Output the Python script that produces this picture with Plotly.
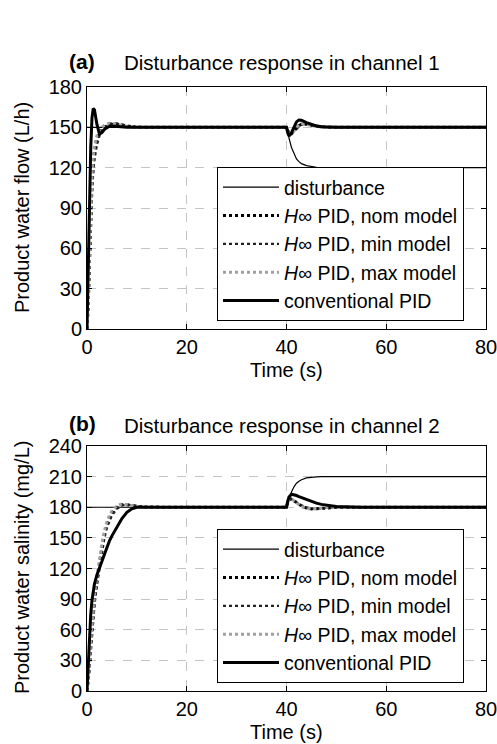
import plotly.graph_objects as go

# ---------------- data ----------------
t = [0, 0.25, 0.5, 0.75, 1, 1.25, 1.5, 2, 2.5, 3, 3.5, 4, 4.5, 5, 6, 7, 8, 9, 10, 12, 15, 20, 30, 40,
     40.25, 40.5, 41, 41.5, 42, 42.5, 43, 44, 45, 46, 47, 48, 50, 55, 60, 70, 80]

# channel 1 (product water flow, L/h)
flow_dist = [150] * 24 + [147, 142, 135, 130, 126.5, 124.5, 123, 121.5, 120.7, 120.3, 120.1, 120, 120, 120, 120, 120, 120]
flow_nom = [0, 18, 50, 85, 108, 122, 131, 141, 146, 148.5, 150.3, 151.5, 152.3, 152.8, 152.5, 151.6, 150.9, 150.4, 150.1, 150, 150, 150, 150, 150,
            147.5, 145.5, 145.2, 147, 149.5, 151.3, 152.3, 152.4, 151.6, 150.9, 150.4, 150.1, 150, 150, 150, 150, 150]
flow_min = [0, 14, 42, 76, 100, 116, 126, 137, 143.5, 147, 149.5, 151, 152, 152.6, 152.7, 152, 151.2, 150.6, 150.2, 150, 150, 150, 150, 150,
            148, 146, 145.8, 147.3, 149.3, 151, 152, 152.5, 151.9, 151.1, 150.6, 150.2, 150, 150, 150, 150, 150]
flow_max = [0, 22, 58, 93, 115, 128, 136, 144, 148, 150.3, 151.6, 152.5, 153, 153, 152.3, 151.3, 150.6, 150.2, 150, 150, 150, 150, 150, 150,
            147, 145, 145, 147.2, 150, 152, 152.8, 152.3, 151.2, 150.5, 150.2, 150, 150, 150, 150, 150, 150]
flow_pid = [0, 45, 95, 135, 157, 164, 163, 152, 145, 146, 148.5, 150, 150.8, 151, 150.5, 150.2, 150, 150, 150, 150, 150, 150, 150, 150,
            146, 143.5, 146, 150.5, 154, 155.5, 155.3, 153.5, 152, 151, 150.5, 150.2, 150, 150, 150, 150, 150]

# channel 2 (product water salinity, mg/L)
sal_dist = [180] * 24 + [183, 188, 195, 200, 203.5, 205.5, 207, 208.7, 209.4, 209.8, 210, 210, 210, 210, 210, 210, 210]
sal_nom = [0, 10, 25, 44, 62, 76, 89, 108, 125, 141, 154, 163, 169, 174, 180, 182.5, 182.5, 181.5, 180.8, 180.2, 180, 180, 180, 180,
           185, 187.5, 188, 186.5, 184.5, 182.7, 181.3, 179.3, 178.4, 178.5, 179, 179.5, 180, 180, 180, 180, 180]
sal_min = [0, 8, 21, 39, 56, 71, 84, 104, 121, 137, 150, 160, 167, 172, 178.5, 181.8, 182.6, 182, 181.2, 180.4, 180, 180, 180, 180,
           184.5, 187, 187.8, 186.8, 185, 183.3, 182, 179.9, 178.8, 178.6, 178.9, 179.4, 179.9, 180, 180, 180, 180]
sal_max = [0, 12, 29, 49, 67, 81, 94, 113, 130, 145, 157, 166, 172, 176.5, 181.5, 183.2, 182.7, 181.5, 180.6, 180.1, 180, 180, 180, 180,
           185.5, 188, 188.2, 186.2, 184, 182, 180.6, 178.8, 178.2, 178.6, 179.2, 179.7, 180, 180, 180, 180, 180]
sal_pid = [0, 28, 55, 75, 89, 98, 105, 114, 120, 127, 134, 141, 147, 152, 161, 169, 175, 178.5, 180, 180.2, 180, 180, 180, 180,
           186, 190, 192.8, 192.5, 191.5, 190.5, 189.5, 187.5, 185.5, 184, 182.8, 182, 180.8, 180.1, 180, 180, 180]

names = ["disturbance", "<i>H∞</i> PID, nom model", "<i>H∞</i> PID, min model",
         "<i>H∞</i> PID, max model", "conventional PID"]
x_ticks = [0, 20, 40, 60, 80]
flow_ticks = [0, 30, 60, 90, 120, 150, 180]
sal_ticks = [0, 30, 60, 90, 120, 150, 180, 210, 240]

styles = [
    dict(color="black", width=1.2, dash="solid"),
    dict(color="black", width=3, dash="dot"),
    dict(color="#222222", width=2.2, dash="dot"),
    dict(color="#a0a0a0", width=3, dash="dot"),
    dict(color="black", width=3, dash="solid"),
]

fig = go.Figure()
for series, legend, xa, ya in [
    ([flow_dist, flow_nom, flow_min, flow_max, flow_pid], "legend", "x", "y"),
    ([sal_dist, sal_nom, sal_min, sal_max, sal_pid], "legend2", "x2", "y2"),
]:
    for name, vals, st in zip(names, series, styles):
        fig.add_trace(go.Scatter(x=t, y=vals, mode="lines", name=name, line=st,
                                 xaxis=xa, yaxis=ya, legend=legend))

W, H = 497, 744
L, R = 87, 486
FAM = "Liberation Sans, Arial, sans-serif"
font = dict(family=FAM, size=20, color="black")

def px_x(p):
    return (p - L) / (R - L)

def px_y(p):
    return 1 - p / H

axis_common = dict(showline=True, linecolor="black", linewidth=1, mirror="ticks",
                   ticks="inside", ticklen=5, tickcolor="black",
                   showgrid=True, gridcolor="#c4c4c4", griddash="dash", gridwidth=1,
                   zeroline=False, tickfont=font)

legend_common = dict(x=px_x(217), xanchor="left", yanchor="bottom",
                     bordercolor="black", borderwidth=1, bgcolor="white",
                     font=dict(family=FAM, size=19.5, color="black"),
                     tracegroupgap=0, itemwidth=56)

fig.update_layout(
    width=W, height=H,
    margin=dict(l=L, r=W - R, t=0, b=0, autoexpand=False),
    paper_bgcolor="white", plot_bgcolor="white",
    font=font,
    xaxis=dict(domain=[0, 1], anchor="y", range=[0, 80], tickvals=x_ticks,
               ticklabeloverflow="allow", **axis_common),
    yaxis=dict(domain=[px_y(329), px_y(87)], anchor="x", range=[0, 180], tickvals=flow_ticks, **axis_common),
    xaxis2=dict(domain=[0, 1], anchor="y2", range=[0, 80], tickvals=x_ticks,
                ticklabeloverflow="allow", **axis_common),
    yaxis2=dict(domain=[px_y(691), px_y(446)], anchor="x2", range=[0, 240], tickvals=sal_ticks, **axis_common),
    legend=dict(y=px_y(321), **legend_common),
    legend2=dict(y=px_y(683), **legend_common),
    showlegend=True,
)

ann = []
def add_text(text, xp, yp, size=20, angle=0, xanchor="center"):
    ann.append(dict(text=text, x=px_x(xp), y=px_y(yp), xref="paper", yref="paper",
                    xanchor=xanchor, yanchor="middle", textangle=angle, showarrow=False,
                    font=dict(family=FAM, size=size, color="black")))

add_text("<b>(a)</b>", 82, 61, size=21)
add_text("Disturbance response in channel 1", 122, 62, xanchor="left", size=20.5)
add_text("<b>(b)</b>", 82, 423, size=21)
add_text("Disturbance response in channel 2", 122, 425, xanchor="left", size=20.5)
add_text("Time (s)", (L + R) / 2, 370)
add_text("Time (s)", (L + R) / 2, 732)
add_text("Product water flow (L/h)", 22, 208, angle=-90)
add_text("Product water salinity (mg/L)", 22, 568, angle=-90)

fig.update_layout(annotations=ann)
fig.write_html("out.html", config={"displayModeBar": False},
               post_script="document.body.style.margin='0';")
